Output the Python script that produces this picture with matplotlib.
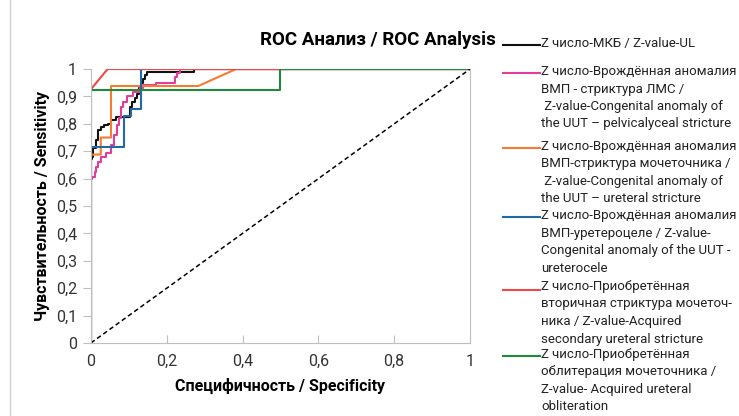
import matplotlib
matplotlib.use('Agg')
import matplotlib.pyplot as plt
from matplotlib.lines import Line2D

plt.rcParams['font.family'] = ['Roboto', 'DejaVu Sans']

# ROC точки (ось X подписана как "специфичность", на деле 1-специфичность)
mkb_x = [0, 0, 0.004, 0.006, 0.013, 0.018, 0.026, 0.035, 0.044, 0.053, 0.066, 0.103, 0.108,
         0.116, 0.121, 0.127, 0.132, 0.137, 0.142, 0.148, 0.272, 1.0]
mkb_y = [0, 0.67, 0.68, 0.71, 0.741, 0.777, 0.79, 0.795, 0.80, 0.814, 0.826, 0.863, 0.88,
         0.893, 0.91, 0.93, 0.948, 0.965, 0.978, 0.99, 1.0, 1.0]

lms_x = [0, 0, 0.004, 0.01, 0.013, 0.018, 0.026, 0.04, 0.053, 0.062, 0.068, 0.075, 0.08,
         0.085, 0.095, 0.11, 0.13, 0.138, 0.173, 0.222, 0.228, 0.235, 1.0]
lms_y = [0, 0.6, 0.607, 0.625, 0.644, 0.662, 0.68, 0.693, 0.723, 0.76, 0.796, 0.82, 0.863,
         0.88, 0.90, 0.917, 0.93, 0.943, 0.95, 0.97, 0.985, 1.0, 1.0]

ureter_x = [0, 0, 0.026, 0.026, 0.053, 0.053, 0.283, 0.383, 1.0]
ureter_y = [0, 0.688, 0.688, 0.75, 0.75, 0.938, 0.938, 1.0, 1.0]

cele_x = [0, 0, 0.088, 0.107, 0.131, 1.0]
cele_y = [0, 0.714, 0.828, 0.856, 1.0, 1.0]

second_x = [0, 0, 0.044, 1.0]
second_y = [0, 0.926, 1.0, 1.0]

oblit_x = [0, 0, 0.5, 1.0]
oblit_y = [0, 0.923, 1.0, 1.0]

xticks = [0, 0.2, 0.4, 0.6, 0.8, 1.0]
xtick_labels = ['0', '0,2', '0,4', '0,6', '0,8', '1']
yticks = [0, 0.1, 0.2, 0.3, 0.4, 0.5, 0.6, 0.7, 0.8, 0.9, 1.0]
ytick_labels = ['0', '0,1', '0,2', '0,3', '0,4', '0,5', '0,6', '0,7', '0,8', '0,9', '1']

labels = [
    'Z число-МКБ / Z-value-UL',
    'Z число-Врождённая аномалия\nВМП - стриктура ЛМС /\n Z-value-Congenital anomaly of\nthe UUT – pelvicalyceal stricture',
    'Z число-Врождённая аномалия\nВМП-стриктура мочеточника /\n Z-value-Congenital anomaly of\nthe UUT – ureteral stricture',
    'Z число-Врождённая аномалия\nВМП-уретероцеле / Z-value-\nCongenital anomaly of the UUT -\nureterocele',
    'Z число-Приобретённая\nвторичная стриктура мочеточ-\nника / Z-value-Acquired\nsecondary ureteral stricture',
    'Z число-Приобретённая\nоблитерация мочеточника /\nZ-value- Acquired ureteral\nobliteration',
]
colors = ['#111111', '#e23c9c', '#f47b30', '#1f6aa5', '#f04848', '#1e8a3c']

fig = plt.figure(figsize=(7.39, 4.16), dpi=100)
ax = fig.add_axes([0.123, 0.1755, 0.513, 0.6585])

ax.plot(mkb_x, mkb_y, color=colors[0], lw=1.5, drawstyle='steps-post')
ax.plot(lms_x, lms_y, color=colors[1], lw=1.5, drawstyle='steps-post')
ax.plot(ureter_x, ureter_y, color=colors[2], lw=1.5)
ax.plot(cele_x, cele_y, color=colors[3], lw=1.5, drawstyle='steps-post')
ax.plot(second_x, second_y, color=colors[4], lw=1.5)
ax.plot(oblit_x, oblit_y, color=colors[5], lw=1.5, drawstyle='steps-post')
ax.plot([0, 1], [0, 1], color='black', lw=1.1, ls=(0, (3, 2)))

ax.set_xlim(0, 1)
ax.set_ylim(0, 1)
ax.set_xticks(xticks)
ax.set_xticklabels(xtick_labels)
ax.set_yticks(yticks)
ax.set_yticklabels(ytick_labels)
ax.tick_params(axis='x', direction='in', length=6, color='#bfbfbf', labelsize=11.5,
               labelcolor='#333333', pad=8)
ax.tick_params(axis='y', direction='out', length=6, color='#bfbfbf', labelsize=11.5,
               labelcolor='#333333', pad=4)
for s in ['left', 'bottom', 'right']:
    ax.spines[s].set_color('#bfbfbf')
ax.spines['top'].set_visible(False)

ax.set_xlabel('Специфичность / Specificity', fontsize=11.5, fontweight='bold', labelpad=6)
ax.set_ylabel('Чувствительность / Sensitivity', fontsize=11.5, fontweight='bold', labelpad=4)
fig.text(0.512, 0.905, 'ROC Анализ / ROC Analysis', fontsize=13.5, fontweight='bold',
         ha='center', va='center')

# легенда вручную: линия на уровне первой строки
tops = [45, 73, 148, 217, 288, 356]
for lab, c, ty in zip(labels, colors, tops):
    yl = 1 - (ty + (2 if c == colors[4] else 0)) / 416
    fig.add_artist(Line2D([503 / 739, 540 / 739], [yl, yl], color=c, lw=1.5))
    fig.text(541 / 739, 1 - (ty - 8) / 416, lab, fontsize=9.5, va='top', ha='left',
             color='#222222', linespacing=1.45)

fig.add_artist(Line2D([10 / 739, 10 / 739], [0, 1], color='#d0d0d0', lw=1))

fig.savefig('out.png', dpi=100)
